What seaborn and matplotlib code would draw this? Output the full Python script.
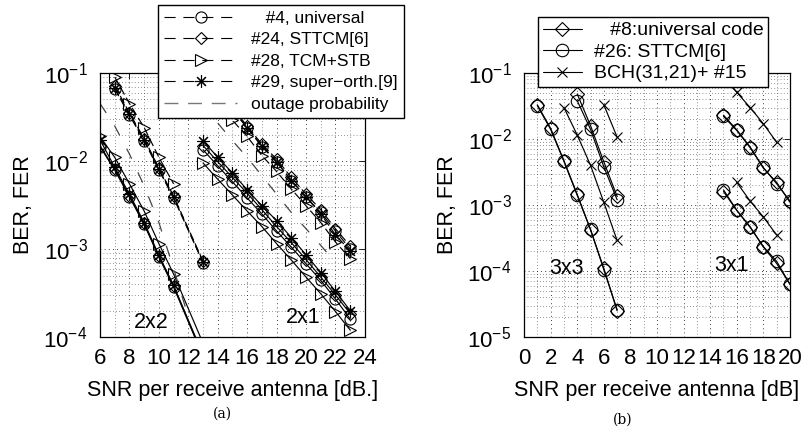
import matplotlib
matplotlib.use("Agg")
import matplotlib.pyplot as plt
import seaborn as sns
from matplotlib.lines import Line2D
from matplotlib.ticker import LogLocator, MultipleLocator, NullFormatter

# ---- panel (a): 2x2 and 2x1 ----
snr_22_ber = [6, 7, 8, 9, 10, 11, 13]
ber_22_univ = [0.0145, 0.0079, 0.0039, 0.0019, 8.1e-4, 3.7e-4, 6.0e-5]
ber_22_sttcm = [0.015, 0.0081, 0.0040, 0.00195, 8.3e-4, 3.8e-4, 6.1e-5]
ber_22_tcm = [0.019, 0.011, 0.0055, 0.0027, 0.00115, 5.2e-4, 8.5e-5]
ber_22_super = [0.0174, 0.0085, 0.0042, 0.0020, 8.5e-4, 3.85e-4, 6.3e-5]

snr_22_fer = [7, 8, 9, 10, 11, 13]
fer_22_univ = [0.066, 0.033, 0.017, 0.0079, 0.0038, 7.0e-4]
fer_22_sttcm = [0.072, 0.035, 0.018, 0.0083, 0.0040, 7.3e-4]
fer_22_super = [0.068, 0.034, 0.0175, 0.0081, 0.0039, 7.1e-4]
snr_22_fer_tcm = [7, 8, 9, 10, 11]
fer_22_tcm = [0.09, 0.045, 0.024, 0.011, 0.0055]

snr_21_ber = [13, 14, 15, 16, 17, 18, 19, 20, 21, 22, 23]
ber_21_univ = [0.0134, 0.0088, 0.0058, 0.0038, 0.0025, 0.0016, 0.00105, 6.8e-4, 4.4e-4, 2.7e-4, 1.6e-4]
ber_21_sttcm = [0.015, 0.0098, 0.0065, 0.0043, 0.0028, 0.0018, 0.00118, 7.6e-4, 4.8e-4, 3.0e-4, 1.85e-4]
ber_21_tcm = [0.0095, 0.0062, 0.0041, 0.0027, 0.0018, 0.00115, 7.5e-4, 4.8e-4, 3.1e-4, 1.95e-4, 1.2e-4]
ber_21_super = [0.017, 0.011, 0.0073, 0.0047, 0.0031, 0.0021, 0.00135, 8.6e-4, 5.4e-4, 3.3e-4, 2.0e-4]

snr_21_fer = [14, 15, 16, 17, 18, 19, 20, 21, 22, 23]
fer_21_univ = [0.06, 0.038, 0.024, 0.0145, 0.0098, 0.006, 0.0039, 0.0026, 0.0016, 0.001]
fer_21_sttcm = [0.063, 0.04, 0.025, 0.0155, 0.0105, 0.0065, 0.0042, 0.0028, 0.0017, 0.00108]
fer_21_tcm = [0.045, 0.029, 0.019, 0.0115, 0.0076, 0.0048, 0.0031, 0.002, 0.0012, 7.8e-4]
fer_21_super = [0.06, 0.038, 0.024, 0.015, 0.0098, 0.006, 0.0039, 0.0025, 0.00145, 0.00095]

snr_out_22 = [6, 7, 8, 9, 10, 11, 12]
out_22 = [0.045, 0.025, 0.012, 0.0052, 0.002, 6e-4, 1.7e-4]
snr_out_21 = [14, 15, 16, 17, 18, 19, 20, 21, 22]
out_21 = [0.027, 0.017, 0.011, 0.0068, 0.0042, 0.0026, 0.0017, 0.0011, 7e-4]

# ---- panel (b): 3x3 and 3x1 ----
snr_33 = [1, 2, 3, 4, 5, 6, 7]
ber_33_univ = [0.033, 0.0145, 4.7e-3, 1.45e-3, 4.2e-4, 1.1e-4, 2.5e-5]
ber_33_sttcm = [0.032, 0.014, 4.6e-3, 1.4e-3, 4.3e-4, 1.05e-4, 2.6e-5]
snr_33_fer = [4, 5, 6, 7]
fer_33_univ = [0.048, 0.016, 4.5e-3, 1.35e-3]
fer_33_sttcm = [0.038, 0.014, 3.8e-3, 1.2e-3]
snr_33_bch = [3, 4, 5, 6, 7]
ber_33_bch = [0.030, 0.0115, 4.0e-3, 1.1e-3, 2.9e-4]
snr_33_bch_fer = [6, 7]
fer_33_bch = [0.033, 0.0107]

snr_31 = [15, 16, 17, 18, 19, 20]
fer_31_univ = [0.023, 0.0137, 0.0076, 0.0036, 0.0022, 0.0011]
fer_31_sttcm = [0.022, 0.0135, 0.0074, 0.0037, 0.0021, 0.00115]
ber_31_univ = [1.6e-3, 8.3e-4, 4.7e-4, 2.3e-4, 1.3e-4, 6.3e-5]
ber_31_sttcm = [1.7e-3, 8.3e-4, 4.6e-4, 2.35e-4, 1.4e-4, 6.3e-5]
snr_31_bch_fer = [15, 16, 17, 18, 19]
fer_31_bch = [0.085, 0.051, 0.03, 0.017, 0.0089]
snr_31_bch_ber = [16, 17, 18, 19]
ber_31_bch = [2.2e-3, 1.15e-3, 6.6e-4, 3.5e-4]

legend_a = ["   #4, universal", "#24, STTCM[6]", "#28, TCM+STB",
            "#29, super\u2212orth.[9]", "outage probability"]
legend_b = ["   #8:universal code", "#26: STTCM[6]", "BCH(31,21)+ #15"]

sns.set_theme(style="white")
plt.rcParams["font.family"] = ["Liberation Sans", "DejaVu Sans"]
plt.rcParams["mathtext.fontset"] = "custom"
plt.rcParams["mathtext.rm"] = "Liberation Sans"
plt.rcParams["text.color"] = "black"
plt.rcParams["axes.labelcolor"] = "black"

DASH = (0, (7, 3))
OUT_DASH = (0, (9, 12))
STAR = (8, 2, 0)
MARK_SIZE = {"o": 8, "D": 6.5, ">": 9, STAR: 9, "x": 7}


def curve(ax, x, y, marker, ls="-", ms=None):
    ms = ms or MARK_SIZE[marker]
    sns.lineplot(x=x, y=y, ax=ax, color="black", lw=0.85, linestyle=ls,
                 marker=marker, markersize=ms, markerfacecolor="none",
                 markeredgecolor="black", markeredgewidth=0.8, sort=False)


def style_axis(ax, xlim, ylim):
    ax.set_yscale("log")
    ax.set_xlim(*xlim)
    ax.set_ylim(*ylim)
    ax.xaxis.set_major_locator(MultipleLocator(2))
    ax.xaxis.set_minor_locator(MultipleLocator(1))
    ax.yaxis.set_major_locator(LogLocator(base=10, numticks=10))
    ax.yaxis.set_minor_locator(LogLocator(base=10, subs=range(2, 10), numticks=10))
    ax.yaxis.set_minor_formatter(NullFormatter())
    ax.grid(True, which="major", axis="both", color="black", ls=(0, (1, 4)), lw=0.6)
    ax.grid(True, which="minor", axis="both", color="black", ls=(0, (1, 4)), lw=0.45)
    ax.tick_params(which="both", direction="in", top=True, right=True,
                   labelsize=16, colors="black")
    ax.tick_params(axis="x", pad=8)
    ax.tick_params(axis="y", pad=9)
    ax.tick_params(which="major", length=4, width=0.6)
    ax.tick_params(which="minor", length=0)
    for s in ax.spines.values():
        s.set_color("black")
        s.set_linewidth(0.9)
    ax.set_ylabel("BER, FER", fontsize=15.5, labelpad=7)


fig = plt.figure(figsize=(8.02, 4.36), dpi=100)
ax_a = fig.add_axes([0.1247, 0.227, 0.3303, 0.6056])
ax_b = fig.add_axes([0.6534, 0.227, 0.3316, 0.6056])

# panel (a)
markers_a = ["o", "D", ">", STAR]
for ys, m in zip([ber_22_univ, ber_22_sttcm, ber_22_tcm, ber_22_super], markers_a):
    curve(ax_a, snr_22_ber, ys, m)
for ys, m in zip([fer_22_univ, fer_22_sttcm, fer_22_super], ["o", "D", STAR]):
    curve(ax_a, snr_22_fer, ys, m, ls=DASH)
curve(ax_a, snr_22_fer_tcm, fer_22_tcm, ">", ls=DASH)
for ys, m in zip([ber_21_univ, ber_21_sttcm, ber_21_tcm, ber_21_super], markers_a):
    curve(ax_a, snr_21_ber, ys, m)
for ys, m in zip([fer_21_univ, fer_21_sttcm, fer_21_tcm, fer_21_super], markers_a):
    curve(ax_a, snr_21_fer, ys, m, ls=DASH)
sns.lineplot(x=snr_out_22, y=out_22, ax=ax_a, color="#444444", lw=0.9, linestyle=OUT_DASH)
sns.lineplot(x=snr_out_21, y=out_21, ax=ax_a, color="#444444", lw=0.9, linestyle=OUT_DASH)
style_axis(ax_a, (6, 24), (1e-4, 1e-1))
ax_a.set_xlabel("SNR per receive antenna [dB.]", fontsize=15.5, labelpad=8)
ax_a.text(9.5, 1.45e-4, "2x2", fontsize=15.5, ha="center", va="center")
ax_a.text(19.8, 1.65e-4, "2x1", fontsize=15.5, ha="center", va="center")

handles_a = []
for m in markers_a:
    handles_a.append(Line2D([], [], color="black", lw=0.8, ls=(0, (10, 7)), marker=m,
                            markersize=MARK_SIZE[m], markerfacecolor="none",
                            markeredgewidth=0.8))
handles_a.append(Line2D([], [], color="#777777", lw=1.0, ls=(0, (10, 7))))
ax_a.legend(handles_a, legend_a, loc="upper left", bbox_to_anchor=(0.197, 0.989),
            bbox_transform=fig.transFigure, fontsize=12.5, frameon=True, fancybox=False,
            edgecolor="black", framealpha=1, handlelength=4.2, labelspacing=0.36,
            borderpad=0.35, handletextpad=0.8, borderaxespad=0)

# panel (b)
curve(ax_b, snr_33, ber_33_univ, "D", ms=7)
curve(ax_b, snr_33, ber_33_sttcm, "o", ms=9)
curve(ax_b, snr_33_fer, fer_33_univ, "D", ms=7)
curve(ax_b, snr_33_fer, fer_33_sttcm, "o", ms=9)
curve(ax_b, snr_33_bch, ber_33_bch, "x")
curve(ax_b, snr_33_bch_fer, fer_33_bch, "x")
curve(ax_b, snr_31, fer_31_univ, "D", ms=7)
curve(ax_b, snr_31, fer_31_sttcm, "o", ms=9)
curve(ax_b, snr_31, ber_31_univ, "D", ms=7)
curve(ax_b, snr_31, ber_31_sttcm, "o", ms=9)
curve(ax_b, snr_31_bch_fer, fer_31_bch, "x")
curve(ax_b, snr_31_bch_ber, ber_31_bch, "x")
style_axis(ax_b, (0, 20), (1e-5, 1e-1))
ax_b.set_xlabel("SNR per receive antenna [dB]", fontsize=15.5, labelpad=8)
ax_b.text(3.2, 1.1e-4, "3x3", fontsize=15.5, ha="center", va="center")
ax_b.text(15.6, 1.2e-4, "3x1", fontsize=15.5, ha="center", va="center")

handles_b = [Line2D([], [], color="black", lw=0.8, marker=m, markersize=s,
                    markerfacecolor="none", markeredgewidth=0.8)
             for m, s in [("D", 7), ("o", 9), ("x", 7)]]
ax_b.legend(handles_b, legend_b, loc="upper left", bbox_to_anchor=(0.671, 0.961),
            bbox_transform=fig.transFigure, fontsize=14, frameon=True, fancybox=False,
            edgecolor="black", framealpha=1, handlelength=2.0, labelspacing=0.2,
            borderpad=0.25, handletextpad=0.6, borderaxespad=0)

fig.text(0.277, 0.043, "(a)", fontsize=10, family="DejaVu Serif", ha="center")
fig.text(0.777, 0.028, "(b)", fontsize=10, family="DejaVu Serif", ha="center")

fig.savefig("out.png", dpi=100)
